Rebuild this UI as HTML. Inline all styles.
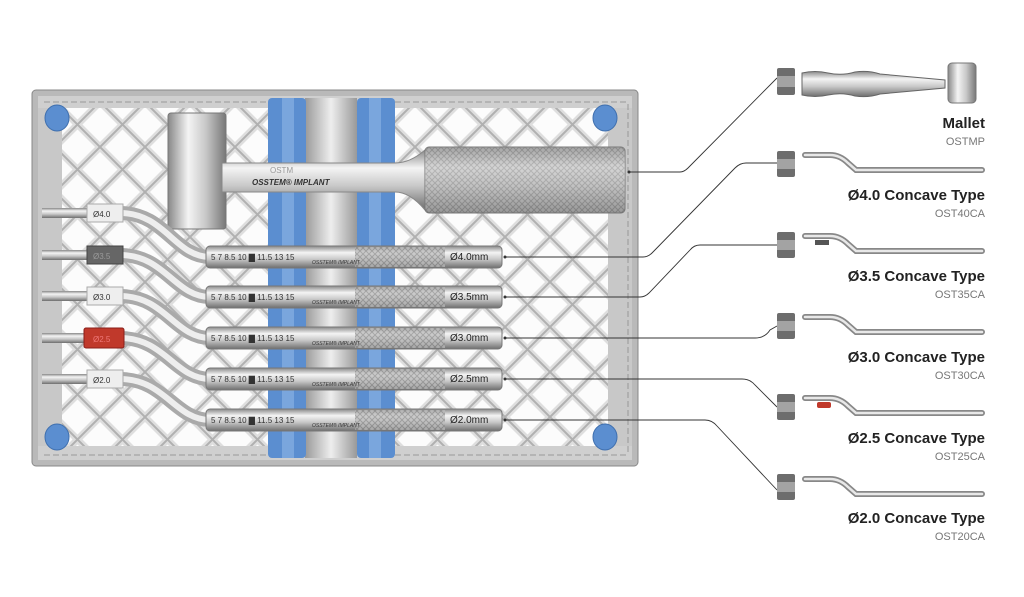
<!DOCTYPE html>
<html><head><meta charset="utf-8"><style>
html,body{margin:0;padding:0;background:#fff;}
svg{display:block}
.b{font-family:"Liberation Sans Narrow","Liberation Sans",sans-serif;font-weight:bold;font-size:15px;fill:#222;text-anchor:end;font-stretch:condensed}
.c{font-family:"Liberation Sans",sans-serif;font-size:11px;fill:#777;text-anchor:end}
.s{font-family:"Liberation Sans",sans-serif;font-size:8px;fill:#333}
.m{font-family:"Liberation Sans",sans-serif;font-size:10px;fill:#222}
</style></head><body>
<svg width="1024" height="597" viewBox="0 0 1024 597" xmlns="http://www.w3.org/2000/svg">
<defs>
<linearGradient id="met" x1="0" y1="0" x2="0" y2="1">
<stop offset="0" stop-color="#888"/><stop offset=".3" stop-color="#f4f4f4"/><stop offset=".6" stop-color="#c8c8c8"/><stop offset="1" stop-color="#6e6e6e"/></linearGradient>
<linearGradient id="metv" x1="0" y1="0" x2="1" y2="0">
<stop offset="0" stop-color="#888"/><stop offset=".35" stop-color="#f4f4f4"/><stop offset=".65" stop-color="#c8c8c8"/><stop offset="1" stop-color="#777"/></linearGradient>
<linearGradient id="gc" x1="0" y1="0" x2="1" y2="0">
<stop offset="0" stop-color="#999"/><stop offset=".5" stop-color="#eee"/><stop offset="1" stop-color="#999"/></linearGradient>
<pattern id="lat" width="45" height="45" patternUnits="userSpaceOnUse" x="10" y="12">
<rect width="45" height="45" fill="#fcfcfc"/>
<path d="M0 0L45 45M45 0L0 45" stroke="#dedede" stroke-width="7"/>
<path d="M0 0L45 45M45 0L0 45" stroke="#b0b0b0" stroke-width="2"/>
</pattern>
<pattern id="knurl" width="6" height="6" patternUnits="userSpaceOnUse">
<rect width="6" height="6" fill="#bbb"/><path d="M0 0L6 6M6 0L0 6" stroke="#888" stroke-width="1"/></pattern>
</defs>

<rect x="32" y="90" width="606" height="376" rx="4" fill="#b9b9b9" stroke="#888"/>
<rect x="38" y="96" width="594" height="364" fill="#d4d4d4"/>
<rect x="62" y="108" width="546" height="338" fill="url(#lat)"/>
<rect x="38" y="96" width="24" height="364" fill="#c8c8c8"/>
<rect x="608" y="96" width="24" height="364" fill="#c8c8c8"/>
<rect x="38" y="96" width="594" height="12" fill="#cfcfcf"/>
<rect x="38" y="446" width="594" height="14" fill="#cfcfcf"/>
<line x1="44" y1="102" x2="626" y2="102" stroke="#999" stroke-dasharray="6 3"/>
<line x1="44" y1="455" x2="626" y2="455" stroke="#999" stroke-dasharray="6 3"/>
<line x1="628" y1="104" x2="628" y2="452" stroke="#999" stroke-dasharray="6 3"/>
<rect x="305" y="98" width="52" height="360" fill="url(#gc)"/>
<rect x="268" y="98" width="38" height="360" rx="4" fill="#5b8ed0"/>
<rect x="282" y="98" width="12" height="360" fill="#7aa6dd"/>
<rect x="357" y="98" width="38" height="360" rx="4" fill="#5b8ed0"/>
<rect x="369" y="98" width="12" height="360" fill="#7aa6dd"/>
<g fill="#5b8ed0" stroke="#3f6fae"><ellipse cx="57" cy="118" rx="12" ry="13"/><ellipse cx="605" cy="118" rx="12" ry="13"/><ellipse cx="57" cy="437" rx="12" ry="13"/><ellipse cx="605" cy="437" rx="12" ry="13"/></g>

<rect x="168" y="113" width="58" height="116" rx="3" fill="url(#metv)" stroke="#777"/>
<path d="M222 163 H395 Q410 163 425 150 V210 Q410 192 395 192 H222Z" fill="url(#met)" stroke="#888"/>
<rect x="425" y="147" width="200" height="66" rx="4" fill="url(#knurl)" stroke="#777"/>
<rect x="425" y="147" width="200" height="66" rx="4" fill="url(#met)" opacity=".45"/>
<text x="270" y="173" class="s" style="fill:#999">OSTM</text>
<text x="252" y="185" class="s" style="font-style:italic;font-weight:bold">OSSTEM® IMPLANT</text>

<g>
<g>
<path d="M120 213 C165 213 175 257 210 257" fill="none" stroke="#aaa" stroke-width="14"/><path d="M120 213 C165 213 175 257 210 257" fill="none" stroke="#eee" stroke-width="6"/>
<rect x="42" y="208" width="45" height="10" fill="url(#met)"/><rect x="87" y="204" width="36" height="18" fill="#eee" stroke="#aaa"/><text x="93" y="217" class="s">Ø4.0</text>
</g>
<g>
<path d="M120 255 C165 255 175 297 210 297" fill="none" stroke="#aaa" stroke-width="14"/><path d="M120 255 C165 255 175 297 210 297" fill="none" stroke="#eee" stroke-width="6"/>
<rect x="42" y="250" width="45" height="10" fill="url(#met)"/><rect x="87" y="246" width="36" height="18" fill="#666" stroke="#444"/><text x="93" y="259" class="s" style="fill:#999">Ø3.5</text>
</g>
<g>
<path d="M120 296 C165 296 175 338 210 338" fill="none" stroke="#aaa" stroke-width="14"/><path d="M120 296 C165 296 175 338 210 338" fill="none" stroke="#eee" stroke-width="6"/>
<rect x="42" y="291" width="45" height="10" fill="url(#met)"/><rect x="87" y="287" width="36" height="18" fill="#eee" stroke="#aaa"/><text x="93" y="300" class="s">Ø3.0</text>
</g>
<g>
<path d="M120 338 C165 338 175 379 210 379" fill="none" stroke="#aaa" stroke-width="14"/><path d="M120 338 C165 338 175 379 210 379" fill="none" stroke="#eee" stroke-width="6"/>
<rect x="42" y="333" width="45" height="10" fill="url(#met)"/><rect x="84" y="328" width="40" height="20" rx="2" fill="#c0392b" stroke="#8a1f1a"/><text x="93" y="342" class="s" style="fill:#e77">Ø2.5</text>
</g>
<g>
<path d="M120 379 C165 379 175 420 210 420" fill="none" stroke="#aaa" stroke-width="14"/><path d="M120 379 C165 379 175 420 210 420" fill="none" stroke="#eee" stroke-width="6"/>
<rect x="42" y="374" width="45" height="10" fill="url(#met)"/><rect x="87" y="370" width="36" height="18" fill="#eee" stroke="#aaa"/><text x="93" y="383" class="s">Ø2.0</text>
</g>
</g>
<g>
<g transform="translate(0,257)">
<rect x="206" y="-11" width="296" height="22" rx="4" fill="url(#met)" stroke="#777"/><rect x="355" y="-10" width="90" height="20" fill="url(#knurl)" opacity=".7"/>
<text x="211" y="3" class="s">5  7  8.5  10 ▇ 11.5  13  15</text><text x="312" y="7" class="s" style="font-size:5px;font-style:italic">OSSTEM® IMPLANT</text><text x="450" y="3" class="m">Ø4.0mm</text></g>
<g transform="translate(0,297)">
<rect x="206" y="-11" width="296" height="22" rx="4" fill="url(#met)" stroke="#777"/><rect x="355" y="-10" width="90" height="20" fill="url(#knurl)" opacity=".7"/>
<text x="211" y="3" class="s">5  7  8.5  10 ▇ 11.5  13  15</text><text x="312" y="7" class="s" style="font-size:5px;font-style:italic">OSSTEM® IMPLANT</text><text x="450" y="3" class="m">Ø3.5mm</text></g>
<g transform="translate(0,338)">
<rect x="206" y="-11" width="296" height="22" rx="4" fill="url(#met)" stroke="#777"/><rect x="355" y="-10" width="90" height="20" fill="url(#knurl)" opacity=".7"/>
<text x="211" y="3" class="s">5  7  8.5  10 ▇ 11.5  13  15</text><text x="312" y="7" class="s" style="font-size:5px;font-style:italic">OSSTEM® IMPLANT</text><text x="450" y="3" class="m">Ø3.0mm</text></g>
<g transform="translate(0,379)">
<rect x="206" y="-11" width="296" height="22" rx="4" fill="url(#met)" stroke="#777"/><rect x="355" y="-10" width="90" height="20" fill="url(#knurl)" opacity=".7"/>
<text x="211" y="3" class="s">5  7  8.5  10 ▇ 11.5  13  15</text><text x="312" y="7" class="s" style="font-size:5px;font-style:italic">OSSTEM® IMPLANT</text><text x="450" y="3" class="m">Ø2.5mm</text></g>
<g transform="translate(0,420)">
<rect x="206" y="-11" width="296" height="22" rx="4" fill="url(#met)" stroke="#777"/><rect x="355" y="-10" width="90" height="20" fill="url(#knurl)" opacity=".7"/>
<text x="211" y="3" class="s">5  7  8.5  10 ▇ 11.5  13  15</text><text x="312" y="7" class="s" style="font-size:5px;font-style:italic">OSSTEM® IMPLANT</text><text x="450" y="3" class="m">Ø2.0mm</text></g>
</g>

<g fill="none" stroke="#333" stroke-width="0.9">
<path d="M629 172 H680 Q684 172 688 168 L777 78"/>
<path d="M505 257 H643 Q648 257 652 253 L735 168 Q740 163 746 163 H777"/>
<path d="M505 297 H640 Q645 297 649 293 L690 250 Q694 245 700 245 H777"/>
<path d="M505 338 H755 Q765 338 770 330 L777 326"/>
<path d="M505 379 H742 Q750 379 755 385 L777 407"/>
<path d="M505 420 H705 Q712 420 717 426 L777 490"/>
</g>
<g fill="#333"><circle cx="629" cy="172" r="1.5"/><circle cx="505" cy="257" r="1.5"/><circle cx="505" cy="297" r="1.5"/><circle cx="505" cy="338" r="1.5"/><circle cx="505" cy="379" r="1.5"/><circle cx="505" cy="420" r="1.5"/></g>

<g>
<g transform="translate(777,68)"><rect width="18" height="27" rx="2" fill="#6d6d6d"/><rect y="8" width="18" height="11" fill="#a3a3a3"/></g>
<g transform="translate(777,151)"><rect width="18" height="26" rx="2" fill="#6d6d6d"/><rect y="8" width="18" height="10" fill="#a3a3a3"/></g>
<g transform="translate(777,232)"><rect width="18" height="26" rx="2" fill="#6d6d6d"/><rect y="8" width="18" height="10" fill="#a3a3a3"/></g>
<g transform="translate(777,313)"><rect width="18" height="26" rx="2" fill="#6d6d6d"/><rect y="8" width="18" height="10" fill="#a3a3a3"/></g>
<g transform="translate(777,394)"><rect width="18" height="26" rx="2" fill="#6d6d6d"/><rect y="8" width="18" height="10" fill="#a3a3a3"/></g>
<g transform="translate(777,474)"><rect width="18" height="26" rx="2" fill="#6d6d6d"/><rect y="8" width="18" height="10" fill="#a3a3a3"/></g>
</g>

<path d="M802 73 Q815 70 828 73 Q842 76 855 72 Q868 70 880 74 L945 80 V88 L880 94 Q868 98 855 96 Q842 92 828 95 Q815 98 802 95Z" fill="url(#met)" stroke="#666"/>
<rect x="948" y="63" width="28" height="40" rx="4" fill="url(#metv)" stroke="#777"/>

<g fill="none" stroke-linecap="round">
<g id="ri"><path d="M805 155 H830 Q840 155 848 163 L856 170 H982" stroke="#888" stroke-width="6"/><path d="M805 155 H830 Q840 155 848 163 L856 170 H982" stroke="#e8e8e8" stroke-width="2.5"/></g>
<use href="#ri" y="81"/><use href="#ri" y="162"/><use href="#ri" y="243"/><use href="#ri" y="324"/>
</g>
<rect x="817" y="402" width="14" height="6" rx="2" fill="#c0392b"/>
<rect x="815" y="240" width="14" height="5" fill="#555"/>

<text x="985" y="128" class="b">Mallet</text><text x="985" y="145" class="c">OSTMP</text>
<text x="985" y="200" class="b">Ø4.0 Concave Type</text><text x="985" y="217" class="c">OST40CA</text>
<text x="985" y="281" class="b">Ø3.5 Concave Type</text><text x="985" y="298" class="c">OST35CA</text>
<text x="985" y="362" class="b">Ø3.0 Concave Type</text><text x="985" y="379" class="c">OST30CA</text>
<text x="985" y="443" class="b">Ø2.5 Concave Type</text><text x="985" y="460" class="c">OST25CA</text>
<text x="985" y="523" class="b">Ø2.0 Concave Type</text><text x="985" y="540" class="c">OST20CA</text>
</svg>
</body></html>
